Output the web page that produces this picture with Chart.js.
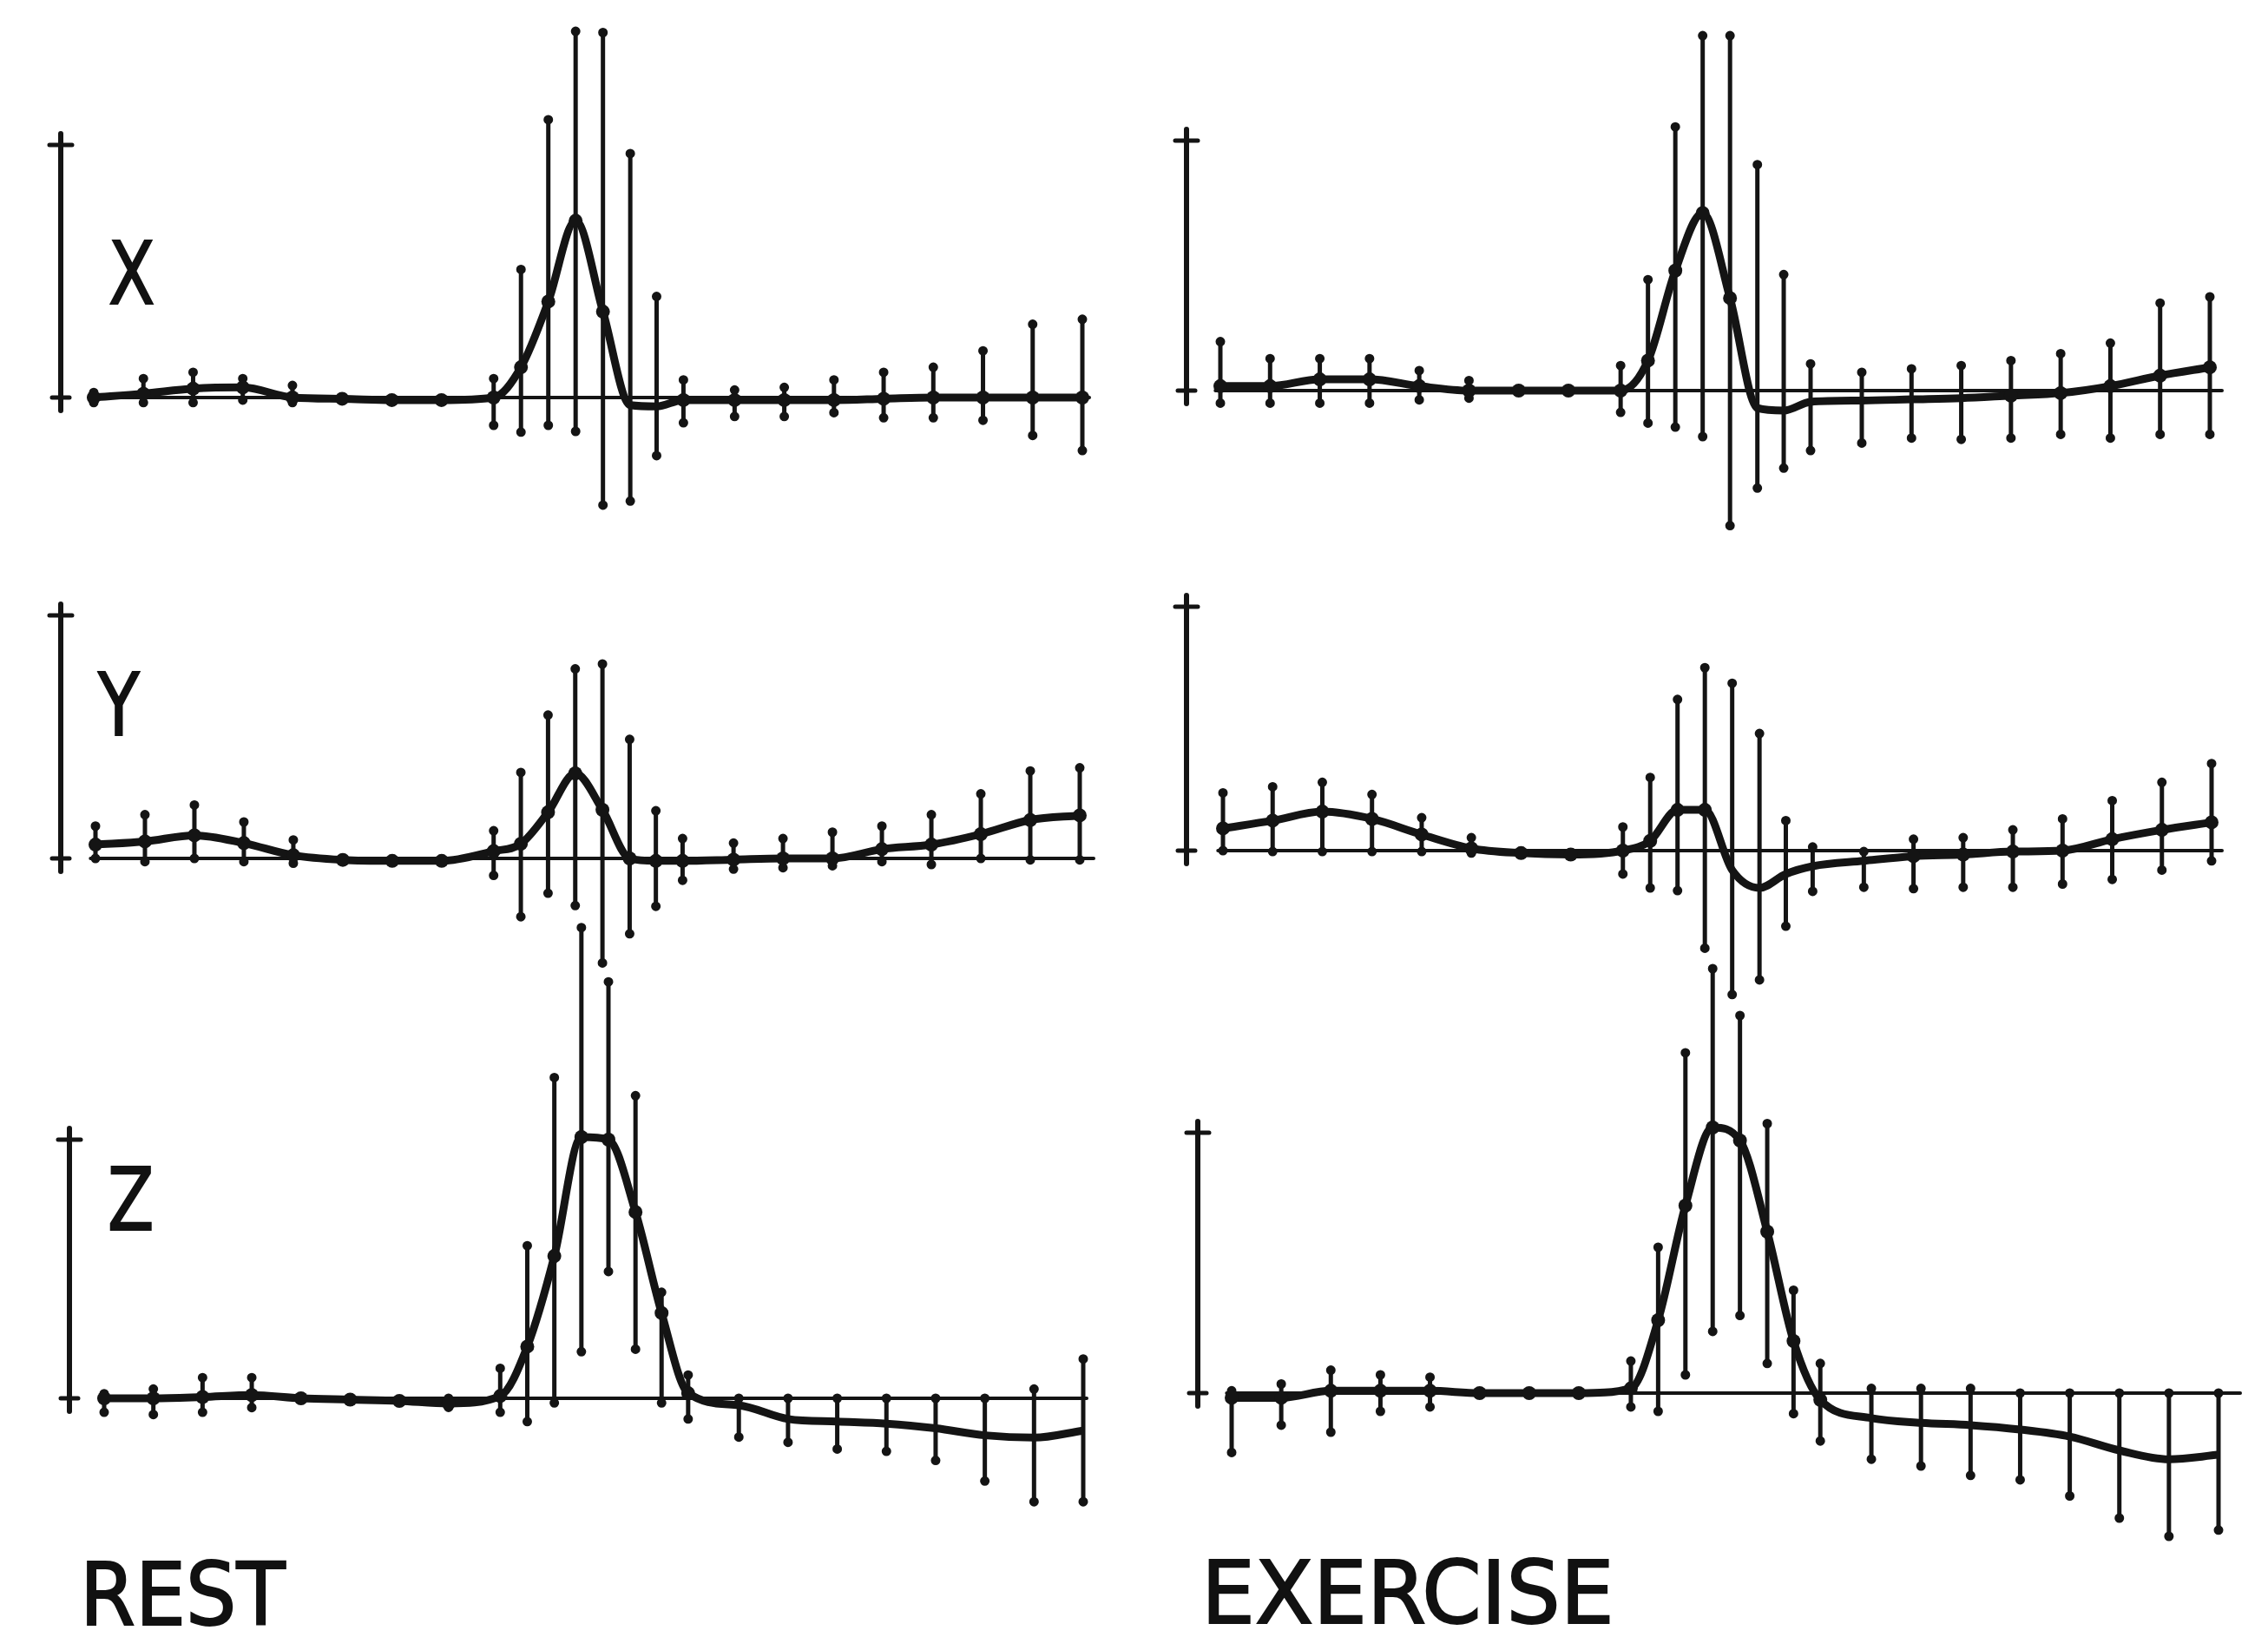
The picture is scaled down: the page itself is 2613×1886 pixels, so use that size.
<!DOCTYPE html>
<html>
<head>
<meta charset="utf-8">
<script src="https://cdn.jsdelivr.net/npm/chart.js@4.4.1/dist/chart.umd.min.js"></script>
<style>
html,body{margin:0;padding:0;background:#fff;}
#wrap{position:relative;width:2613px;height:1886px;overflow:hidden;background:#fff;}
canvas{position:absolute;left:0;top:0;}
.lbl{position:absolute;font-family:"DejaVu Sans",sans-serif;font-size:100px;line-height:100px;color:#111;-webkit-text-stroke:2px #111;transform-origin:0 0;white-space:nowrap;}
</style>
</head>
<body>
<div id="wrap">
<canvas id="c0" width="2613" height="1886"></canvas>
<canvas id="c1" width="2613" height="1886"></canvas>
<canvas id="c2" width="2613" height="1886"></canvas>
<canvas id="c3" width="2613" height="1886"></canvas>
<canvas id="c4" width="2613" height="1886"></canvas>
<canvas id="c5" width="2613" height="1886"></canvas>
<div class="lbl" style="left:125px;top:266px;transform:scaleX(0.78)">X</div>
<div class="lbl" style="left:113px;top:763px;transform:scaleX(0.78)">Y</div>
<div class="lbl" style="left:124px;top:1333px;transform:scaleX(0.78)">Z</div>
<div class="lbl" style="left:92px;top:1788px;transform:scaleX(0.92)">REST</div>
<div class="lbl" style="left:1384px;top:1786px;transform:scaleX(0.98)">EXERCISE</div>
</div>
<script>
// sample times (regular steps, denser sampling through QRS)
const t=[0,1,2,3,4,5,6,7,8.05,8.6,9.15,9.7,10.25,10.8,11.33,11.87,12.9,13.9,14.9,15.9,16.9,17.9,18.9,19.9];
const scaleBar=1;

// REST
const xRestMean=[0,0.015,0.035,0.04,0,-0.005,-0.01,-0.01,0,0.12,0.38,0.70,0.34,-0.03,-0.035,-0.01,-0.01,-0.01,-0.01,-0.005,0,0,0,0];
const xRestHi=[0.02,0.075,0.10,0.075,0.048,0.01,0,0,0.075,0.507,1.10,1.45,1.445,0.966,0.40,0.07,0.03,0.04,0.07,0.10,0.12,0.185,0.29,0.31];
const xRestLo=[-0.02,-0.02,-0.02,-0.01,-0.02,-0.02,-0.02,-0.02,-0.11,-0.137,-0.11,-0.134,-0.426,-0.41,-0.23,-0.1,-0.075,-0.075,-0.06,-0.08,-0.08,-0.09,-0.15,-0.21];

const yRestMean=[0.057,0.07,0.095,0.063,0.013,-0.006,-0.01,-0.01,0.03,0.06,0.19,0.35,0.2,0,-0.01,-0.01,-0.005,0,0,0.038,0.057,0.1,0.158,0.177];
const yRestHi=[0.133,0.18,0.22,0.15,0.076,0.01,0,0,0.114,0.354,0.59,0.78,0.80,0.49,0.196,0.082,0.063,0.082,0.108,0.133,0.18,0.266,0.36,0.373];
const yRestLo=[0,-0.013,0,-0.013,-0.02,-0.02,-0.02,-0.02,-0.07,-0.24,-0.143,-0.194,-0.43,-0.31,-0.197,-0.09,-0.044,-0.038,-0.03,-0.013,-0.025,0,-0.006,-0.006];

const zRestMean=[0,0,0.005,0.0125,0,-0.005,-0.01,-0.02,0.009,0.2,0.55,1.01,1.0,0.72,0.33,0.02,-0.027,-0.08,-0.09,-0.098,-0.116,-0.143,-0.152,-0.125];
const zRestHi=[0.018,0.036,0.08,0.08,0.01,0,0,0,0.116,0.59,1.24,1.82,1.61,1.17,0.41,0.09,0,0,0,0,0,0,0.036,0.152];
const zRestLo=[-0.054,-0.0625,-0.054,-0.036,-0.015,-0.02,-0.025,-0.035,-0.054,-0.09,-0.018,0.18,0.49,0.19,-0.018,-0.08,-0.15,-0.17,-0.196,-0.205,-0.24,-0.32,-0.40,-0.40];

// EXERCISE
const xExMean=[0.018,0.018,0.045,0.045,0.018,0,0,0,0,0.12,0.48,0.71,0.37,-0.07,-0.08,-0.045,-0.04,-0.035,-0.03,-0.02,-0.01,0.018,0.06,0.093];
const xExHi=[0.196,0.128,0.128,0.128,0.08,0.04,0.01,0.01,0.1,0.444,1.055,1.42,1.42,0.904,0.464,0.107,0.073,0.087,0.1,0.12,0.148,0.19,0.35,0.375];
const xExLo=[-0.05,-0.05,-0.05,-0.05,-0.037,-0.03,-0.01,-0.01,-0.087,-0.13,-0.146,-0.184,-0.54,-0.39,-0.31,-0.24,-0.21,-0.19,-0.195,-0.19,-0.175,-0.19,-0.175,-0.175];

const yExMean=[0.091,0.123,0.16,0.13,0.066,0.009,-0.01,-0.016,0,0.04,0.167,0.167,-0.08,-0.153,-0.096,-0.064,-0.042,-0.023,-0.016,-0.004,0,0.047,0.085,0.116];
const yExHi=[0.237,0.262,0.28,0.23,0.135,0.053,0,0,0.097,0.30,0.62,0.75,0.686,0.48,0.123,0.015,-0.004,0.047,0.053,0.085,0.13,0.205,0.28,0.357];
const yExLo=[0,-0.004,-0.004,-0.004,-0.004,-0.01,-0.025,-0.03,-0.096,-0.153,-0.164,-0.40,-0.59,-0.53,-0.31,-0.167,-0.15,-0.156,-0.15,-0.15,-0.137,-0.118,-0.08,-0.042];

const zExMean=[-0.018,-0.018,0.009,0.009,0.009,0,0,0,0.018,0.28,0.72,1.02,0.97,0.62,0.2,-0.026,-0.096,-0.114,-0.123,-0.14,-0.167,-0.22,-0.254,-0.237];
const zExHi=[0.009,0.035,0.088,0.07,0.061,0.015,0.01,0.01,0.123,0.56,1.307,1.63,1.45,1.035,0.395,0.114,0.018,0.018,0.018,0,0,0,0,0];
const zExLo=[-0.228,-0.123,-0.15,-0.07,-0.053,-0.015,-0.01,-0.01,-0.053,-0.07,0.07,0.237,0.298,0.114,-0.079,-0.184,-0.254,-0.28,-0.316,-0.333,-0.395,-0.48,-0.55,-0.526];

const ink="#141414";
const W=2613,H=1886;

// where each panel sits on the page (pixels)
const panels=[
 {id:"c0",mean:xRestMean,hi:xRestHi,lo:xRestLo,left:108,right:1247,top:167,base:458,bar:38,tail:8},
 {id:"c1",mean:yRestMean,hi:yRestHi,lo:yRestLo,left:110,right:1244,top:709,base:989,bar:40,tail:16},
 {id:"c2",mean:zRestMean,hi:zRestHi,lo:zRestLo,left:120,right:1248,top:1313,base:1611,bar:40,tail:4},
 {id:"c3",mean:xExMean,hi:xExHi,lo:xExLo,left:1406,right:2546,top:162,base:450,bar:39,tail:14},
 {id:"c4",mean:yExMean,hi:yExHi,lo:yExLo,left:1409,right:2548,top:699,base:980,bar:42,tail:12},
 {id:"c5",mean:zExMean,hi:zExHi,lo:zExLo,left:1419,right:2556,top:1305,base:1605,bar:39,tail:25}
];

const marks={
 id:"marks",
 beforeDatasetsDraw(chart,args,opt){
  const c=chart.ctx,xs=chart.scales.x,ys=chart.scales.y;
  const ds=chart.data.datasets[0];
  const y0=ys.getPixelForValue(0),y1=ys.getPixelForValue(scaleBar);
  c.save();
  c.strokeStyle=ink;c.fillStyle=ink;c.lineCap="round";
  // zero line
  c.lineWidth=4;
  c.beginPath();
  c.moveTo(xs.getPixelForValue(t[0]-0.1),y0);
  c.lineTo(xs.getPixelForValue(t[t.length-1])+opt.tail,y0);
  c.stroke();
  // calibration bar
  const sx=xs.getPixelForValue(t[0])-opt.bar;
  c.lineWidth=6;
  c.beginPath();c.moveTo(sx,y1-13);c.lineTo(sx,y0+15);c.stroke();
  c.lineWidth=5;
  c.beginPath();c.moveTo(sx-13,y1);c.lineTo(sx+13,y1);c.moveTo(sx-10,y0);c.lineTo(sx+10,y0);c.stroke();
  // error bars
  c.lineWidth=5;
  ds.data.forEach((p,i)=>{
   const px=xs.getPixelForValue(p.x);
   const a=ys.getPixelForValue(ds.hi[i]),b=ys.getPixelForValue(ds.lo[i]);
   if(b-a<10)return;
   c.beginPath();c.moveTo(px,a);c.lineTo(px,b);c.stroke();
   c.beginPath();c.arc(px,a,5.5,0,Math.PI*2);c.arc(px,b,5.5,0,Math.PI*2);c.fill();
  });
  c.restore();
 }
};

panels.forEach(p=>{
 new Chart(document.getElementById(p.id),{
  type:"line",
  data:{datasets:[{
   data:t.map((v,i)=>({x:v,y:p.mean[i]})),
   hi:p.hi,lo:p.lo,
   borderColor:ink,borderWidth:9,cubicInterpolationMode:"monotone",
   pointRadius:8,pointBackgroundColor:ink,pointBorderWidth:0,
   clip:false
  }]},
  options:{
   responsive:false,animation:false,devicePixelRatio:1,
   layout:{padding:{left:p.left,right:W-p.right,top:p.top,bottom:H-p.base}},
   scales:{
    x:{type:"linear",min:t[0],max:t[t.length-1],display:false},
    y:{min:0,max:scaleBar,display:false}
   },
   plugins:{legend:{display:false},tooltip:{enabled:false},marks:{bar:p.bar,tail:p.tail}}
  },
  plugins:[marks]
 });
});
</script>
</body>
</html>
